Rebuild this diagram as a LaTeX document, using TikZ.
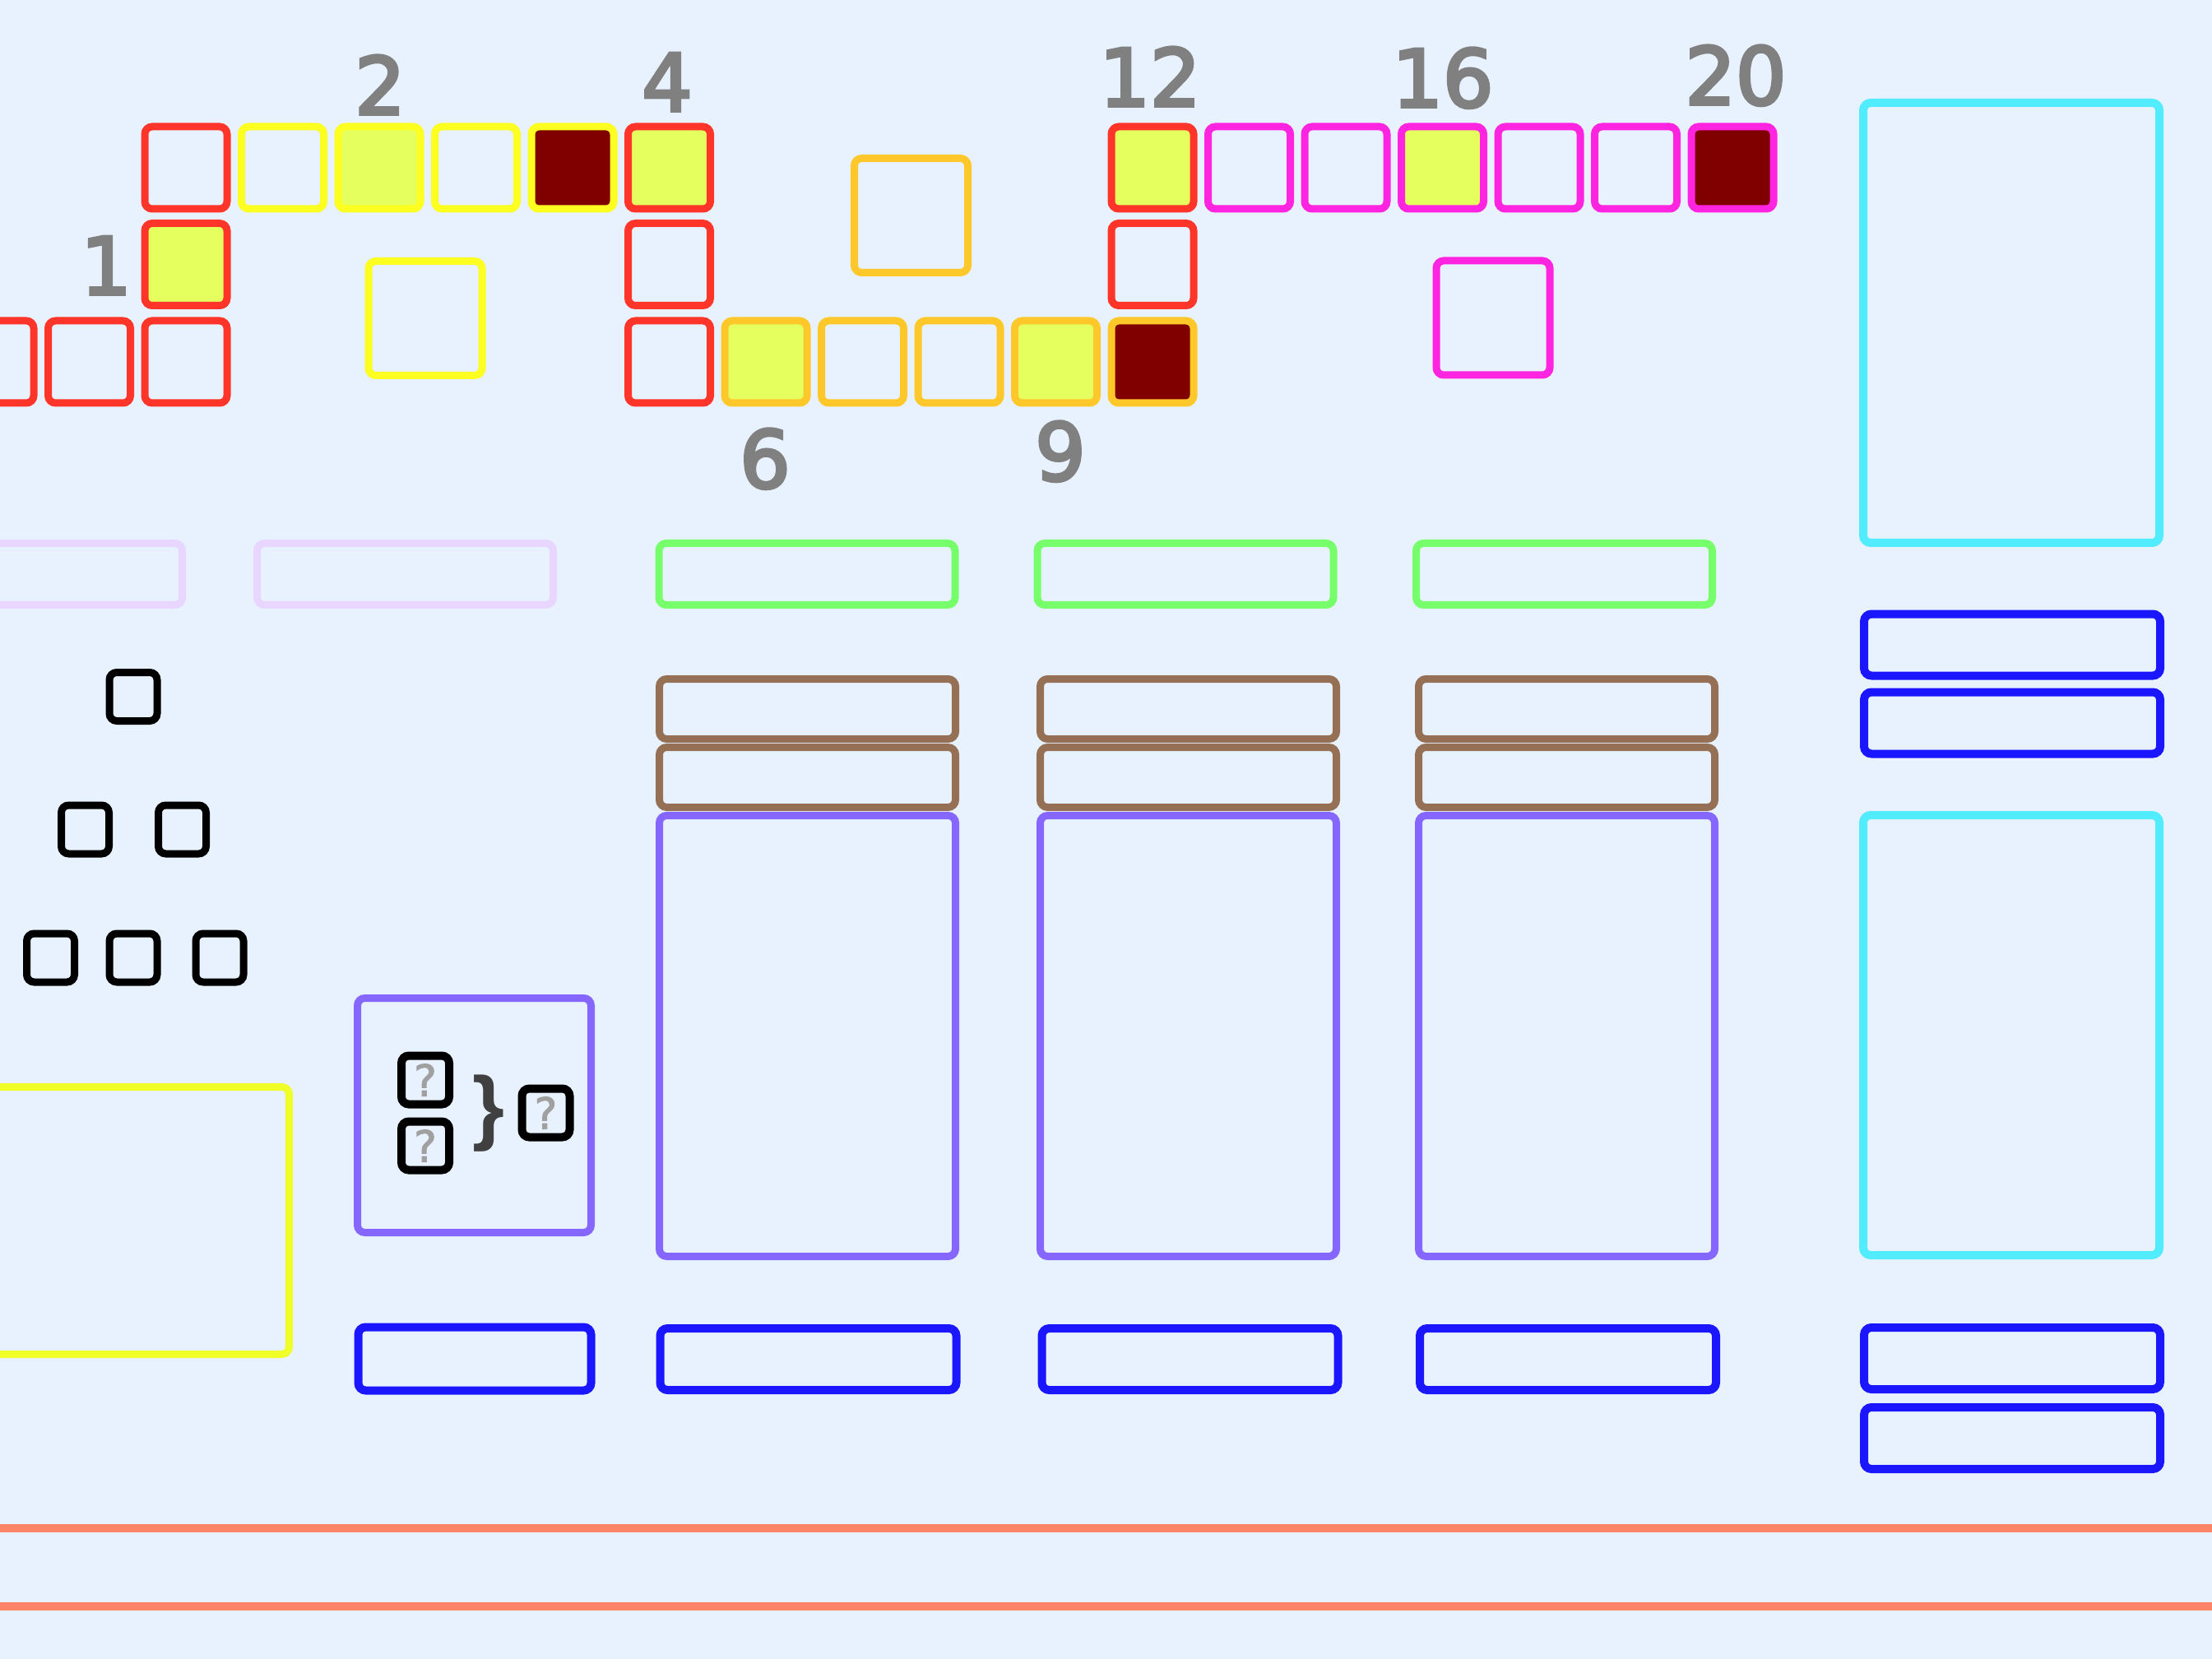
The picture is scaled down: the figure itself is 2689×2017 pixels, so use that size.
\documentclass[tikz,border=0pt]{standalone}
\usepackage{fontspec}
\newfontfamily\numfont[FakeBold=4]{DejaVu Sans}
\newfontfamily\qfont[FakeBold=2]{DejaVu Sans}
\newfontfamily\bracefont{Liberation Sans}
\definecolor{bg}{HTML}{E8F2FE}
\definecolor{cred}{HTML}{FF3529}
\definecolor{cyel}{HTML}{FCFF20}
\definecolor{corg}{HTML}{FFC82A}
\definecolor{cmag}{HTML}{FF24E0}
\definecolor{hit}{HTML}{E4FF5E}
\definecolor{last}{HTML}{800000}
\definecolor{ccyan}{HTML}{52ECFF}
\definecolor{cgreen}{HTML}{76FF6A}
\definecolor{clav}{HTML}{E8D6FF}
\definecolor{cbrown}{HTML}{967055}
\definecolor{cpurp}{HTML}{8566FF}
\definecolor{cblue}{HTML}{1A16FF}
\definecolor{bigyel}{HTML}{F0FF28}
\definecolor{salmon}{HTML}{FF8468}
\definecolor{numgray}{HTML}{808080}
\definecolor{qgray}{HTML}{A0A0A0}
\definecolor{bracegray}{HTML}{404040}
\begin{document}
\begin{tikzpicture}[x=0.1mm,y=-0.1mm,
    box/.style={draw,line width=0.9mm,rounded corners=0.9mm,inner sep=0pt},
    cell/.style={box,minimum width=10mm,minimum height=10mm},
    iso/.style={box,minimum width=13.8mm,minimum height=13.9mm},
    bar/.style={box,minimum width=36mm,minimum height=7.5mm},
    tall/.style={box,minimum width=36mm,minimum height=53.6mm},
    tiny/.style={box,line width=0.9mm,draw=black,minimum width=5.8mm,minimum height=5.9mm},
    qbox/.style={tiny,line width=1mm,text=qgray,font=\qfont\fontsize{15}{15}\selectfont},
    num/.style={anchor=base,text=numgray,font=\numfont\fontsize{27.5}{28}\selectfont}]
    \useasboundingbox (0,0) rectangle (2689,2017);
    \fill[bg] (0,0) rectangle (2689,2017);
    % top row
    \node[cell,draw=cred] (t0) at (226,204) {};
    \node[cell,draw=cyel] (t1) at (343.5,204) {};
    \node[cell,draw=cyel,fill=hit] (t2) at (461,204) {};
    \node[cell,draw=cyel] (t3) at (578.5,204) {};
    \node[cell,draw=cyel,fill=last] (t4) at (696,204) {};
    \node[cell,draw=cred,fill=hit] (t5) at (813.5,204) {};
    \node[cell,draw=cred,fill=hit] (t10) at (1401,204) {};
    \node[cell,draw=cmag] (t11) at (1518.5,204) {};
    \node[cell,draw=cmag] (t12) at (1636,204) {};
    \node[cell,draw=cmag,fill=hit] (t13) at (1753.5,204) {};
    \node[cell,draw=cmag] (t14) at (1871,204) {};
    \node[cell,draw=cmag] (t15) at (1988.5,204) {};
    \node[cell,draw=cmag,fill=last] (t16) at (2106,204) {};
    % middle row
    \node[cell,draw=cred,fill=hit] (m0) at (226,321.5) {};
    \node[cell,draw=cred] (m5) at (813.5,321.5) {};
    \node[cell,draw=cred] (m10) at (1401,321.5) {};
    % bottom row
    \node[cell,draw=cred] (bL2) at (-9,440) {};
    \node[cell,draw=cred] (bL1) at (108.5,440) {};
    \node[cell,draw=cred] (b0) at (226,440) {};
    \node[cell,draw=cred] (b5) at (813.5,440) {};
    \node[cell,draw=corg,fill=hit] (b6) at (931,440) {};
    \node[cell,draw=corg] (b7) at (1048.5,440) {};
    \node[cell,draw=corg] (b8) at (1166,440) {};
    \node[cell,draw=corg,fill=hit] (b9) at (1283.5,440) {};
    \node[cell,draw=corg,fill=last] (b10) at (1401,440) {};
    % numbers
    \node[num] (n1) at (129,358) {1};
    \node[num] (n2) at (462,139) {2};
    \node[num] (n4) at (811,135) {4};
    \node[num] (n6) at (930,593) {6};
    \node[num] (n9) at (1289,584) {9};
    \node[num] (n12) at (1398,129) {12};
    \node[num] (n16) at (1754,130) {16};
    \node[num] (n20) at (2110,127) {20};
    % single boxes
    \node[iso,draw=cyel] (isoY) at (517,387) {};
    \node[iso,draw=corg] (isoO) at (1107.5,262) {};
    \node[iso,draw=cmag] (isoM) at (1815,386.5) {};
    % right column
    \node[box,draw=ccyan,line width=1mm,minimum width=36mm,minimum height=53.5mm] (capA) at (2445,392.5) {};
    \node[bar,draw=cblue,line width=1mm] (rA) at (2446,784) {};
    \node[bar,draw=cblue,line width=1mm] (rB) at (2446,879) {};
    \node[box,draw=ccyan,line width=1mm,minimum width=36mm,minimum height=53.5mm] (capB) at (2445,1258.5) {};
    \node[bar,draw=cblue,line width=1mm] (rC) at (2446,1651.5) {};
    \node[bar,draw=cblue,line width=1mm] (rD) at (2446,1748.5) {};
    % bars under the rows
    \node[bar,draw=clav] (lavA) at (41.5,698) {};
    \node[bar,draw=clav] (lavB) at (492.5,698) {};
    \node[bar,draw=cgreen] (gA) at (981,698) {};
    \node[bar,draw=cgreen] (gB) at (1441,698) {};
    \node[bar,draw=cgreen] (gC) at (1901.5,698) {};
    \node[bar,draw=cbrown,minimum height=7.3mm] (kA1) at (981.5,862) {};
    \node[bar,draw=cbrown,minimum height=7.3mm] (kA2) at (981.5,945) {};
    \node[bar,draw=cbrown,minimum height=7.3mm] (kB1) at (1444.5,862) {};
    \node[bar,draw=cbrown,minimum height=7.3mm] (kB2) at (1444.5,945) {};
    \node[bar,draw=cbrown,minimum height=7.3mm] (kC1) at (1904.5,862) {};
    \node[bar,draw=cbrown,minimum height=7.3mm] (kC2) at (1904.5,945) {};
    \node[tall,draw=cpurp] (pA) at (981.5,1259.5) {};
    \node[tall,draw=cpurp] (pB) at (1444.5,1259.5) {};
    \node[tall,draw=cpurp] (pC) at (1904.5,1259.5) {};
    \node[bar,draw=cblue,line width=1mm] (uA) at (982.5,1652.5) {};
    \node[bar,draw=cblue,line width=1mm] (uB) at (1446.5,1652.5) {};
    \node[bar,draw=cblue,line width=1mm] (uC) at (1906,1652.5) {};
    % left part
    \node[tiny] (s1) at (162,847) {};
    \node[tiny] (s2) at (103.5,1008.5) {};
    \node[tiny] (s3) at (221.5,1008.5) {};
    \node[tiny] (s4) at (61.5,1164.5) {};
    \node[tiny] (s5) at (162,1164.5) {};
    \node[tiny] (s6) at (267,1164.5) {};
    \draw[bigyel,line width=0.9mm,rounded corners=0.9mm] (-100,1321.5) rectangle (351.5,1646.5);
    \node[box,draw=cpurp,minimum width=28.4mm,minimum height=28.5mm] (merge) at (576.5,1356) {};
    \node[qbox] (q1) at (517,1313) {?};
    \node[qbox] (q2) at (517,1393) {?};
    \node[text=bracegray,inner sep=0pt,font=\bracefont\bfseries\fontsize{28.5}{28.5}\selectfont] (br) at (594,1354) {\}};
    \node[qbox] (q3) at (663.5,1353) {?};
    \node[bar,draw=cblue,line width=1mm,minimum width=28.3mm,minimum height=7.7mm] (uS) at (577,1652) {};
    % bottom lines
    \draw[salmon,line width=1mm] (0,1858) -- (2689,1858);
    \draw[salmon,line width=1mm] (0,1953) -- (2689,1953);
\end{tikzpicture}
\end{document}
